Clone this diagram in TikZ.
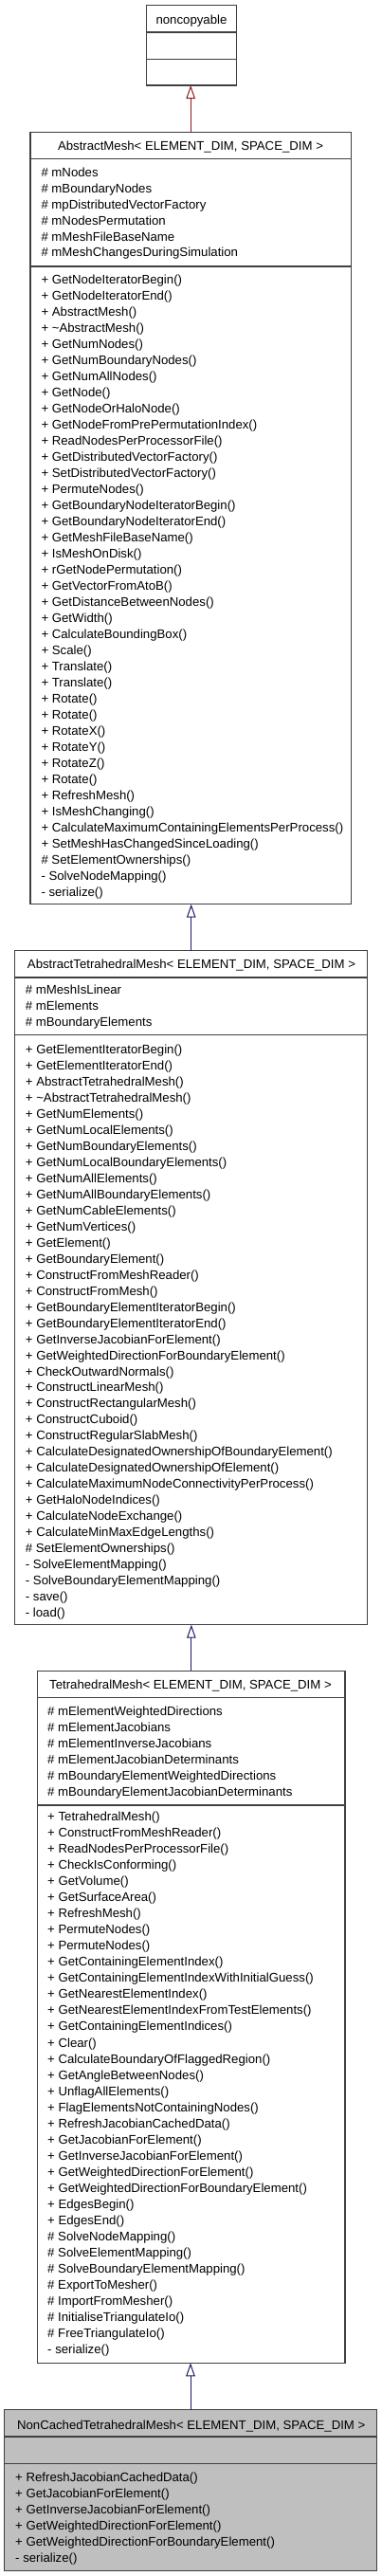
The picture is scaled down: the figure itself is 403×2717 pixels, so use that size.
\documentclass[tikz,border=0pt]{standalone}
\usepackage{fontspec}
\setmainfont{Liberation Sans}
\usetikzlibrary{arrows.meta}
\definecolor{boxline}{RGB}{64,64,64}
\definecolor{pubarrow}{RGB}{25,25,112}
\definecolor{privarrow}{RGB}{139,26,26}
\definecolor{hlfill}{RGB}{191,191,191}
\newcommand{\umlfont}{\fontsize{13.2}{17}\selectfont}
\begin{document}
\begin{tikzpicture}[x=1pt,y=-1pt,
  cls/.style={draw=boxline, line width=1.2pt, inner sep=0pt, outer sep=0pt, anchor=north west},
  sep/.style={draw=boxline, line width=1.2pt},
  ttl/.style={anchor=base, inner sep=0pt, font=\umlfont},
  mem/.style={anchor=base west, inner sep=0pt, font=\umlfont},
  inh/.style={line width=1pt, -{Triangle[open, length=14pt, width=9.5pt, line width=1pt]}}
]
\useasboundingbox (0,0) rectangle (403,2717);

% ---------- noncopyable ----------
\node[cls, minimum width=95pt, minimum height=84.3pt] (nc) at (154.3,5.7) {};
\draw[sep] (nc.west |- 0,34) -- (nc.east |- 0,34);
\draw[sep] (nc.west |- 0,62.3) -- (nc.east |- 0,62.3);
\node[ttl] (nc-t) at (202,25.4) {noncopyable};

% ---------- AbstractMesh ----------
\node[cls, minimum width=338.3pt, minimum height=814.4pt] (am) at (32,139.3) {};
\draw[sep] (am.west |- 0,167.3) -- (am.east |- 0,167.3);
\draw[sep] (am.west |- 0,281) -- (am.east |- 0,281);
\node[ttl] (am-t) at (201,158.4) {AbstractMesh< ELEMENT\_DIM, SPACE\_DIM >};
\foreach \t [count=\i from 0] in {\# mNodes, \# mBoundaryNodes, \# mpDistributedVectorFactory, \# mNodesPermutation, \# mMeshFileBaseName, \# mMeshChangesDuringSimulation}
  \node[mem] (am-a\i) at (43.3,186.4+16.9*\i) {\t};
\foreach \t [count=\i from 0] in {+ GetNodeIteratorBegin(), + GetNodeIteratorEnd(), + AbstractMesh(), + \textasciitilde AbstractMesh(), + GetNumNodes(), + GetNumBoundaryNodes(), + GetNumAllNodes(), + GetNode(), + GetNodeOrHaloNode(), + GetNodeFromPrePermutationIndex(), + ReadNodesPerProcessorFile(), + GetDistributedVectorFactory(), + SetDistributedVectorFactory(), + PermuteNodes(), + GetBoundaryNodeIteratorBegin(), + GetBoundaryNodeIteratorEnd(), + GetMeshFileBaseName(), + IsMeshOnDisk(), + rGetNodePermutation(), + GetVectorFromAtoB(), + GetDistanceBetweenNodes(), + GetWidth(), + CalculateBoundingBox(), + Scale(), + Translate(), + Translate(), + Rotate(), + Rotate(), + RotateX(), + RotateY(), + RotateZ(), + Rotate(), + RefreshMesh(), + IsMeshChanging(), + CalculateMaximumContainingElementsPerProcess(), + SetMeshHasChangedSinceLoading(), \# SetElementOwnerships(), - SolveNodeMapping(), - serialize()}
  \node[mem] (am-m\i) at (43.3,299+17.02*\i) {\t};

% ---------- AbstractTetrahedralMesh ----------
\node[cls, minimum width=372pt, minimum height=711pt] (atm) at (15.7,1002.7) {};
\draw[sep] (atm.west |- 0,1031) -- (atm.east |- 0,1031);
\draw[sep] (atm.west |- 0,1091.3) -- (atm.east |- 0,1091.3);
\node[ttl] (atm-t) at (202,1021.4) {AbstractTetrahedralMesh< ELEMENT\_DIM, SPACE\_DIM >};
\foreach \t [count=\i from 0] in {\# mMeshIsLinear, \# mElements, \# mBoundaryElements}
  \node[mem] (atm-a\i) at (26.7,1048+17.2*\i) {\t};
\foreach \t [count=\i from 0] in {+ GetElementIteratorBegin(), + GetElementIteratorEnd(), + AbstractTetrahedralMesh(), + \textasciitilde AbstractTetrahedralMesh(), + GetNumElements(), + GetNumLocalElements(), + GetNumBoundaryElements(), + GetNumLocalBoundaryElements(), + GetNumAllElements(), + GetNumAllBoundaryElements(), + GetNumCableElements(), + GetNumVertices(), + GetElement(), + GetBoundaryElement(), + ConstructFromMeshReader(), + ConstructFromMesh(), + GetBoundaryElementIteratorBegin(), + GetBoundaryElementIteratorEnd(), + GetInverseJacobianForElement(), + GetWeightedDirectionForBoundaryElement(), + CheckOutwardNormals(), + ConstructLinearMesh(), + ConstructRectangularMesh(), + ConstructCuboid(), + ConstructRegularSlabMesh(), + CalculateDesignatedOwnershipOfBoundaryElement(), + CalculateDesignatedOwnershipOfElement(), + CalculateMaximumNodeConnectivityPerProcess(), + GetHaloNodeIndices(), + CalculateNodeExchange(), + CalculateMinMaxEdgeLengths(), \# SetElementOwnerships(), - SolveElementMapping(), - SolveBoundaryElementMapping(), - save(), - load()}
  \node[mem] (atm-m\i) at (26.7,1111.4+16.98*\i) {\t};

% ---------- TetrahedralMesh ----------
\node[cls, minimum width=324.3pt, minimum height=730pt] (tm) at (39.7,1762.3) {};
\draw[sep] (tm.west |- 0,1790.7) -- (tm.east |- 0,1790.7);
\draw[sep] (tm.west |- 0,1904) -- (tm.east |- 0,1904);
\node[ttl] (tm-t) at (201,1781) {TetrahedralMesh< ELEMENT\_DIM, SPACE\_DIM >};
\foreach \t [count=\i from 0] in {\# mElementWeightedDirections, \# mElementJacobians, \# mElementInverseJacobians, \# mElementJacobianDeterminants, \# mBoundaryElementWeightedDirections, \# mBoundaryElementJacobianDeterminants}
  \node[mem] (tm-a\i) at (50,1809+17*\i) {\t};
\foreach \t [count=\i from 0] in {+ TetrahedralMesh(), + ConstructFromMeshReader(), + ReadNodesPerProcessorFile(), + CheckIsConforming(), + GetVolume(), + GetSurfaceArea(), + RefreshMesh(), + PermuteNodes(), + PermuteNodes(), + GetContainingElementIndex(), + GetContainingElementIndexWithInitialGuess(), + GetNearestElementIndex(), + GetNearestElementIndexFromTestElements(), + GetContainingElementIndices(), + Clear(), + CalculateBoundaryOfFlaggedRegion(), + GetAngleBetweenNodes(), + UnflagAllElements(), + FlagElementsNotContainingNodes(), + RefreshJacobianCachedData(), + GetJacobianForElement(), + GetInverseJacobianForElement(), + GetWeightedDirectionForElement(), + GetWeightedDirectionForBoundaryElement(), + EdgesBegin(), + EdgesEnd(), \# SolveNodeMapping(), \# SolveElementMapping(), \# SolveBoundaryElementMapping(), \# ExportToMesher(), \# ImportFromMesher(), \# InitialiseTriangulateIo(), \# FreeTriangulateIo(), - serialize()}
  \node[mem] (tm-m\i) at (50,1920.7+17.02*\i) {\t};

% ---------- NonCachedTetrahedralMesh ----------
\node[cls, fill=hlfill, minimum width=392.6pt, minimum height=170pt] (nctm) at (4.7,2541.7) {};
\draw[sep] (nctm.west |- 0,2570) -- (nctm.east |- 0,2570);
\draw[sep] (nctm.west |- 0,2598.3) -- (nctm.east |- 0,2598.3);
\node[ttl] (nctm-t) at (201.7,2562) {NonCachedTetrahedralMesh< ELEMENT\_DIM, SPACE\_DIM >};
\foreach \t [count=\i from 0] in {+ RefreshJacobianCachedData(), + GetJacobianForElement(), + GetInverseJacobianForElement(), + GetWeightedDirectionForElement(), + GetWeightedDirectionForBoundaryElement(), - serialize()}
  \node[mem] (nctm-m\i) at (16,2617.4+17.1*\i) {\t};

% ---------- inheritance arrows ----------
\draw[inh, draw=privarrow] (am.north) -- (am.north |- nc.south);
\draw[inh, draw=pubarrow] (atm.north) -- (atm.north |- am.south);
\draw[inh, draw=pubarrow] (tm.north) -- (tm.north |- atm.south);
\draw[inh, draw=pubarrow] (nctm.north) -- (nctm.north |- tm.south);
\end{tikzpicture}
\end{document}
